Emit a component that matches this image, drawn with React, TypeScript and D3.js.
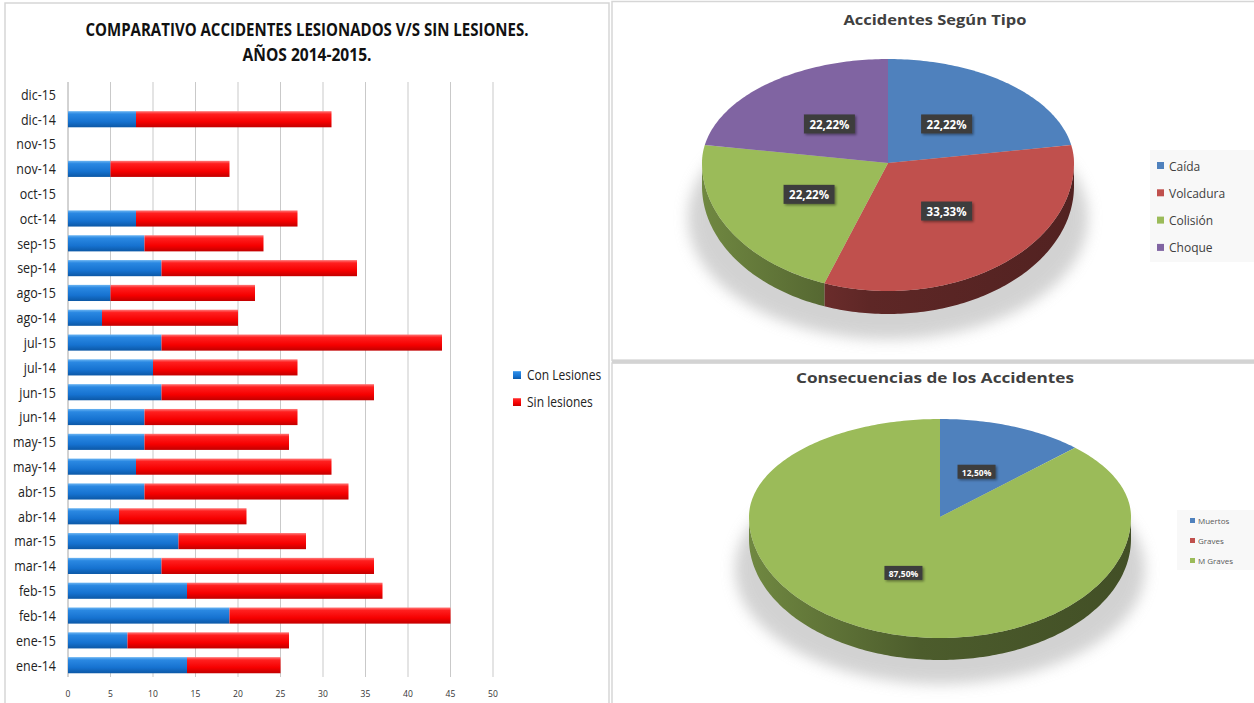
import React from 'react';
import * as d3 from 'd3';

// ---------- DATA ----------
const months = ["ene-14","ene-15","feb-14","feb-15","mar-14","mar-15","abr-14","abr-15","may-14","may-15","jun-14","jun-15","jul-14","jul-15","ago-14","ago-15","sep-14","sep-15","oct-14","oct-15","nov-14","nov-15","dic-14","dic-15"];
const conLesiones = [14,7,19,14,11,13,6,9,8,9,9,11,10,11,4,5,11,9,8,0,5,0,8,0];
const sinLesiones = [11,19,26,23,25,15,15,24,23,17,18,25,17,33,16,17,23,14,19,0,14,0,23,0];
const xTicks = [0,5,10,15,20,25,30,35,40,45,50];
const barSeries = ["Con Lesiones","Sin lesiones"];

const tipoLabels = ["Caída","Volcadura","Colisión","Choque"];
const tipoValues = [2,3,2,2];
const consecLabels = ["Muertos","Graves","M Graves"];
const consecValues = [1,0,7];

// ---------- STYLE ----------
const narrow = "'Liberation Sans Narrow', 'Open Sans', sans-serif";
const sans = "'Open Sans', 'Noto Sans', sans-serif";
const tipoColors = ["#4f81bd","#c0504d","#9bbb59","#8064a2"];
const consecColors = ["#4f81bd","#c0504d","#9bbb59"];

function fmtPct(v: number, total: number) {
  return (v / total * 100).toFixed(2).replace('.', ',') + '%';
}

function NText({ x, y, sx = 0.86, children, ...rest }: any) {
  return (
    <text transform={`translate(${x},${y}) scale(${sx},1)`} {...rest}>{children}</text>
  );
}

function BarChart() {
  const x = d3.scaleLinear().domain([0, 50]).range([68, 493]);
  const order = [...months].reverse();
  const y = d3.scaleBand<string>().domain(order).range([82, 677.6]).paddingInner(0.35).paddingOuter(0.175);
  const bw = y.bandwidth();
  return (
    <g>
      <defs>
        <linearGradient id="gBlue" x1="0" y1="0" x2="0" y2="1">
          <stop offset="0%" stopColor="#6ab4f2" />
          <stop offset="18%" stopColor="#2a88e2" />
          <stop offset="65%" stopColor="#1672d0" />
          <stop offset="100%" stopColor="#0c58a6" />
        </linearGradient>
        <linearGradient id="gRed" x1="0" y1="0" x2="0" y2="1">
          <stop offset="0%" stopColor="#ff7a7a" />
          <stop offset="18%" stopColor="#ff1f1f" />
          <stop offset="65%" stopColor="#f60000" />
          <stop offset="100%" stopColor="#c20000" />
        </linearGradient>
      </defs>
      <text x={307} y={36} textAnchor="middle" fontFamily={narrow} fontWeight="bold" fontSize={17}
        textLength={443} lengthAdjust="spacingAndGlyphs" fill="#111">COMPARATIVO ACCIDENTES LESIONADOS V/S SIN LESIONES.</text>
      <text x={307} y={61} textAnchor="middle" fontFamily={narrow} fontWeight="bold" fontSize={17}
        textLength={129} lengthAdjust="spacingAndGlyphs" fill="#111">AÑOS 2014-2015.</text>
      {xTicks.map(t => (
        <g key={t}>
          <line x1={x(t)} x2={x(t)} y1={82} y2={677} stroke={t === 0 ? "#a6a6a6" : "#c9c9c9"} strokeWidth={1} />
          <NText x={x(t)} y={697} sx={0.9} textAnchor="middle" fontFamily={narrow} fontSize={9.5} fill="#333">{t}</NText>
        </g>
      ))}
      {months.map((m, i) => {
        const yy = y(m)!;
        const c = conLesiones[i], s = sinLesiones[i];
        return (
          <g key={m}>
            <NText x={56} y={yy + bw / 2} textAnchor="end" dominantBaseline="central" fontFamily={narrow} fontSize={14.5} fill="#222">{m}</NText>
            {c > 0 && <rect x={x(0)} y={yy} width={x(c) - x(0)} height={bw} fill="url(#gBlue)" />}
            {s > 0 && <rect x={x(c)} y={yy} width={x(c + s) - x(c)} height={bw} fill="url(#gRed)" />}
          </g>
        );
      })}
      {barSeries.map((name, i) => (
        <g key={name}>
          <rect x={513} y={371 + i * 27} width={8} height={8} fill={i === 0 ? "url(#gBlue)" : "url(#gRed)"} />
          <NText x={527} y={375 + i * 27} dominantBaseline="central" fontFamily={narrow} fontSize={14} fill="#222">{name}</NText>
        </g>
      ))}
    </g>
  );
}

interface PieProps {
  id: string; values: number[]; colors: string[];
  cx: number; cy: number; rx: number; ryT: number; ryB: number; depth: number;
  fontSize: number; boxW: number; boxH: number; labelFrac: number;
}

function Pie3D(p: PieProps) {
  const total = d3.sum(p.values);
  const arcs = d3.pie<number>().sort(null).value(d => d)(p.values);
  const proj = (a: number, f: number, dy = 0): [number, number] => {
    const c = Math.cos(a);
    return [p.cx + p.rx * f * Math.sin(a), p.cy - f * (c > 0 ? p.ryT : p.ryB) * c + dy];
  };
  const rim = (a0: number, a1: number, dy = 0) => {
    const pts: [number, number][] = [];
    const n = Math.max(2, Math.ceil((a1 - a0) / (Math.PI / 180)));
    for (let k = 0; k <= n; k++) pts.push(proj(a0 + (a1 - a0) * k / n, 1, dy));
    return pts;
  };
  const line = d3.line();
  return (
    <g>
      <defs>
        <filter id={p.id + "blur"} x="-30%" y="-30%" width="160%" height="160%">
          <feGaussianBlur stdDeviation={7} />
        </filter>
        <filter id={p.id + "lbl"} x="-30%" y="-30%" width="160%" height="160%">
          <feDropShadow dx={1.5} dy={1.5} stdDeviation={1} floodColor="#000" floodOpacity={0.4} />
        </filter>
        {p.colors.map((c, i) => {
          const col = d3.color(c)!;
          return (
            <linearGradient key={i} id={`${p.id}side${i}`} gradientUnits="userSpaceOnUse" x1={p.cx - p.rx} x2={p.cx + p.rx} y1={0} y2={0}>
              <stop offset="0%" stopColor={col.darker(0.9).toString()} />
              <stop offset="45%" stopColor={col.darker(2.0).toString()} />
              <stop offset="100%" stopColor={col.darker(2.4).toString()} />
            </linearGradient>
          );
        })}
      </defs>
      <ellipse cx={p.cx} cy={p.cy + p.ryB * 0.25 + p.depth} rx={p.rx + 14} ry={p.ryB * 0.95}
        fill="#c4c4c4" opacity={0.75} filter={`url(#${p.id}blur)`} />
      {arcs.map((a, i) => {
        if (a.value === 0) return null;
        const lo = Math.max(a.startAngle, Math.PI / 2), hi = Math.min(a.endAngle, Math.PI * 1.5);
        if (hi <= lo) return null;
        const top = rim(lo, hi);
        const bot = rim(lo, hi, p.depth).reverse();
        return <path key={"s" + i} d={line([...top, ...bot])! + "Z"} fill={`url(#${p.id}side${i})`} />;
      })}
      {arcs.map((a, i) => {
        if (a.value === 0) return null;
        const pts = [[p.cx, p.cy] as [number, number], ...rim(a.startAngle, a.endAngle)];
        return <path key={"t" + i} d={line(pts)! + "Z"} fill={p.colors[i]} />;
      })}
      {arcs.map((a, i) => {
        if (a.value === 0) return null;
        const mid = (a.startAngle + a.endAngle) / 2;
        const [lx, ly] = proj(mid, p.labelFrac);
        return (
          <g key={"l" + i}>
            <rect x={lx - p.boxW / 2} y={ly - p.boxH / 2} width={p.boxW} height={p.boxH} fill="#3d3d3d" filter={`url(#${p.id}lbl)`} />
            <text x={lx} y={ly + 0.5} textAnchor="middle" dominantBaseline="central" fontFamily={sans} fontWeight="bold" fontSize={p.fontSize} fill="#fff">{fmtPct(a.value, total)}</text>
          </g>
        );
      })}
    </g>
  );
}

export default function App() {
  return (
    <div style={{ position: 'absolute', left: 0, top: 0 }}>
      <svg width={1254} height={703} style={{ display: 'block', background: '#fff' }}>
        {/* panel frames */}
        <rect x={5} y={3} width={604} height={710} fill="#fff" stroke="#d6d6d6" strokeWidth={1.5} />
        <rect x={612} y={1.5} width={650} height={359} fill="#fff" stroke="#d6d6d6" strokeWidth={1.5} />
        <rect x={612} y={363} width={650} height={350} fill="#fff" stroke="#d6d6d6" strokeWidth={1.5} />
        <rect x={612} y={359.5} width={642} height={4} fill="#d3d3d3" />

        <BarChart />

        {/* top-right pie */}
        <text x={935} y={25} textAnchor="middle" fontFamily={sans} fontWeight="bold" fontSize={15} fill="#404040"
          textLength={183} lengthAdjust="spacingAndGlyphs">Accidentes Según Tipo</text>
        <Pie3D id="p1" values={tipoValues} colors={tipoColors} cx={888} cy={163} rx={186} ryT={104} ryB={128} depth={23}
          fontSize={11.5} boxW={51} boxH={19} labelFrac={0.49} />
        <rect x={1150} y={150} width={110} height={112} fill="#f8f8f8" />
        {tipoLabels.map((l, i) => (
          <g key={l}>
            <rect x={1157} y={162 + i * 27.3} width={7} height={7} fill={tipoColors[i]} />
            <text x={1169} y={166 + i * 27.3} dominantBaseline="central" fontFamily={sans} fontSize={12} fill="#404040">{l}</text>
          </g>
        ))}

        {/* bottom-right pie */}
        <text x={935} y={383} textAnchor="middle" fontFamily={sans} fontWeight="bold" fontSize={15} fill="#404040"
          textLength={278} lengthAdjust="spacingAndGlyphs">Consecuencias de los Accidentes</text>
        <Pie3D id="p2" values={consecValues} colors={consecColors} cx={940} cy={517} rx={191} ryT={98} ryB={121} depth={22}
          fontSize={8.5} boxW={38} boxH={14} labelFrac={0.5} />
        <rect x={1177} y={510} width={80} height={60} fill="#f8f8f8" />
        {consecLabels.map((l, i) => (
          <g key={l}>
            <rect x={1190} y={518 + i * 20} width={5} height={5} fill={consecColors[i]} />
            <text x={1198} y={520.5 + i * 20} dominantBaseline="central" fontFamily={sans} fontSize={8} fill="#595959">{l}</text>
          </g>
        ))}
      </svg>
    </div>
  );
}
